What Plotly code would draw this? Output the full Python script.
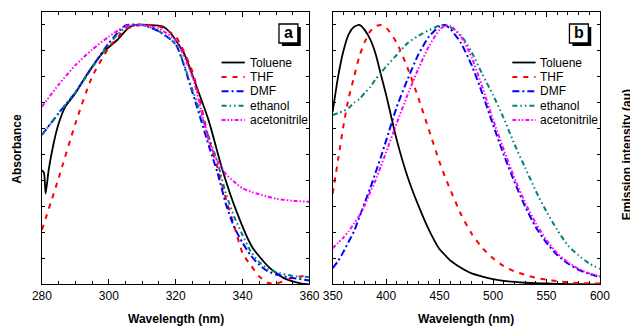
import plotly.graph_objects as go

# ---------------- data ----------------
SERIES = ["Toluene", "THF", "DMF", "ethanol", "acetonitrile"]
COLORS = ["#000000", "#FF0000", "#0000FF", "#008080", "#FF00FF"]
DASHES = ["solid", "5px,6px", "7px,3px,2px,3px", "5px,3px,1.5px,3px,1.5px,3px", "4px,2px,1.5px,2px,1.5px,2px"]
WIDTHS = [1.8, 2, 2, 2, 2]

# Panel a : absorbance
tol_abs_wl = [280, 280.6, 281.1, 282, 283.5, 285, 287, 290, 293.5, 298.5, 302.5, 306, 308, 312, 316,
              318.5, 322.5, 326.3, 329.8, 334, 338, 342.8, 347.7, 352.5, 357.3, 360]
tol_abs = [0.44, 0.43, 0.35, 0.44, 0.544, 0.62, 0.685, 0.737, 0.81, 0.897, 0.942, 0.99, 1.0, 1.0, 0.995,
           0.968, 0.89, 0.76, 0.634, 0.44, 0.287, 0.145, 0.068, 0.023, 0.004, 0.0]

abs_wl = [280, 285, 290, 295, 300, 305, 310, 315, 320, 325, 330, 332.5, 335, 337.5, 340, 342.5, 345, 347.5, 350, 355, 360]
thf_abs = [0.21, 0.41, 0.62, 0.80, 0.912, 0.983, 1.0, 0.995, 0.955, 0.82, 0.555, 0.45, 0.33, 0.225, 0.12, 0.072, 0.03, 0.006, 0.003, 0.025, 0.035]
dmf_abs = [0.576, 0.66, 0.74, 0.838, 0.93, 0.998, 1.0, 0.975, 0.925, 0.74, 0.53, 0.43, 0.31, 0.22, 0.16, 0.11, 0.075, 0.05, 0.038, 0.024, 0.015]
eth_abs = [0.576, 0.66, 0.74, 0.835, 0.925, 0.99, 1.0, 0.975, 0.925, 0.75, 0.565, 0.47, 0.35, 0.26, 0.19, 0.125, 0.085, 0.06, 0.047, 0.032, 0.028]
acn_abs = [0.685, 0.77, 0.845, 0.905, 0.955, 0.995, 1.0, 0.985, 0.94, 0.80, 0.55, 0.475, 0.425, 0.395, 0.37, 0.357, 0.347, 0.338, 0.33, 0.322, 0.318]

# Panel b : emission
em_wl = [350, 355, 360, 365, 370, 375, 380, 385, 390, 395, 400, 410, 420, 430, 440, 450, 455, 460,
         470, 480, 490, 500, 510, 520, 530, 540, 550, 560, 570, 580, 590, 600]
tol_em = [0.666, 0.80, 0.90, 0.965, 0.993, 1.0, 0.98, 0.945, 0.89, 0.81, 0.73, 0.555, 0.415, 0.305, 0.21, 0.135, 0.113, 0.092,
          0.064, 0.042, 0.03, 0.02, 0.013, 0.009, 0.006, 0.004, 0.003, 0.002, 0.001, 0.001, 0.0, 0.0]
thf_em = [0.35, 0.48, 0.61, 0.72, 0.80, 0.88, 0.935, 0.975, 0.995, 1.0, 0.99, 0.93, 0.835, 0.72, 0.595, 0.47, 0.415, 0.365,
          0.27, 0.195, 0.14, 0.10, 0.07, 0.05, 0.036, 0.025, 0.018, 0.012, 0.008, 0.005, 0.004, 0.003]
dmf_em = [0.062, 0.09, 0.125, 0.165, 0.205, 0.26, 0.315, 0.37, 0.43, 0.49, 0.555, 0.685, 0.79, 0.885, 0.955, 0.995, 1.0, 0.985,
          0.93, 0.845, 0.735, 0.615, 0.50, 0.395, 0.30, 0.22, 0.16, 0.113, 0.08, 0.056, 0.04, 0.028]
eth_em = [0.653, 0.66, 0.668, 0.68, 0.70, 0.715, 0.738, 0.76, 0.79, 0.815, 0.84, 0.885, 0.93, 0.958, 0.98, 0.998, 1.0, 0.992,
          0.96, 0.895, 0.81, 0.73, 0.64, 0.54, 0.45, 0.36, 0.28, 0.21, 0.15, 0.112, 0.08, 0.06]
acn_em = [0.139, 0.16, 0.18, 0.205, 0.235, 0.265, 0.305, 0.355, 0.40, 0.455, 0.51, 0.622, 0.73, 0.83, 0.918, 0.982, 0.997, 0.997,
          0.955, 0.875, 0.76, 0.635, 0.52, 0.41, 0.315, 0.235, 0.17, 0.12, 0.085, 0.06, 0.042, 0.03]

abs_x = [tol_abs_wl, abs_wl, abs_wl, abs_wl, abs_wl]
abs_y = [tol_abs, thf_abs, dmf_abs, eth_abs, acn_abs]
em_x = [em_wl] * 5
em_y = [tol_em, thf_em, dmf_em, eth_em, acn_em]

abs_ticks = [280, 300, 320, 340, 360]
em_ticks = [350, 400, 450, 500, 550, 600]

# ---------------- layout helpers ----------------
W, H = 630, 326
FONT = "Arial, 'Liberation Sans', sans-serif"
PLOT_TOP, PLOT_BOTTOM = 12, 284.3
PANELS = [(33, 309.3), (333.3, 609.3)]


def px(x):
    return x / W


def py(y):
    return 1 - y / H


fig = go.Figure()

for k, (xs, ys) in enumerate([(abs_x, abs_y), (em_x, em_y)]):
    xa = "x" if k == 0 else "x2"
    ya = "y" if k == 0 else "y2"
    for i, name in enumerate(SERIES):
        fig.add_trace(go.Scatter(
            x=xs[i], y=ys[i], mode="lines", name=name, showlegend=False,
            line=dict(color=COLORS[i], dash=DASHES[i], width=WIDTHS[i], shape="spline", smoothing=0.6),
            xaxis=xa, yaxis=ya))

axis_common = dict(showgrid=False, zeroline=False, showline=True, linecolor="black", linewidth=1,
                   mirror="ticks", ticks="inside", tickcolor="black", tickwidth=1,
                   tickfont=dict(family=FONT, size=12, color="black"))

fig.update_layout(
    width=W, height=H, margin=dict(l=0, r=0, t=0, b=0),
    paper_bgcolor="white", plot_bgcolor="white",
    xaxis=dict(domain=[px(PANELS[0][0]), px(PANELS[0][1])], range=[280, 360], tickvals=abs_ticks,
               ticklen=5, minor=dict(dtick=5, ticklen=3, ticks="inside", tickcolor="black"),
               anchor="y", **axis_common),
    yaxis=dict(domain=[py(PLOT_BOTTOM), py(PLOT_TOP)], range=[0, 1.05], dtick=0.1, ticklen=3,
               showticklabels=False, anchor="x", **axis_common),
    xaxis2=dict(domain=[px(PANELS[1][0]), px(PANELS[1][1])], range=[350, 600], tickvals=em_ticks,
                ticklen=5, minor=dict(dtick=10, ticklen=3, ticks="inside", tickcolor="black"),
                anchor="y2", **axis_common),
    yaxis2=dict(domain=[py(PLOT_BOTTOM), py(PLOT_TOP)], range=[0, 1.05], dtick=0.1, ticklen=3,
                showticklabels=False, anchor="x2", **axis_common),
)

shapes = []
annotations = []
labels = ["a", "b"]
for k, (left, right) in enumerate(PANELS):
    # axis titles
    annotations.append(dict(text="<b>Wavelength (nm)</b>", x=px((left + right) / 2), y=py(318.5),
                            xref="paper", yref="paper", showarrow=False, xanchor="center", yanchor="middle",
                            font=dict(family=FONT, size=12, color="black")))
    # panel letter box with shadow
    bx1 = right - 12
    bx0 = bx1 - 19.5
    by0, by1 = 24, 43
    shapes.append(dict(type="rect", xref="paper", yref="paper", x0=px(bx0 + 3), x1=px(bx1 + 3),
                       y0=py(by1 + 3), y1=py(by0 + 3), fillcolor="black", line=dict(width=0)))
    shapes.append(dict(type="rect", xref="paper", yref="paper", x0=px(bx0), x1=px(bx1),
                       y0=py(by1), y1=py(by0), fillcolor="white", line=dict(color="black", width=1.3)))
    annotations.append(dict(text="<b>%s</b>" % labels[k], x=px((bx0 + bx1) / 2), y=py((by0 + by1) / 2 - 1),
                            xref="paper", yref="paper", showarrow=False, xanchor="center", yanchor="middle",
                            font=dict(family=FONT, size=16, color="black")))
    # legend
    for i, name in enumerate(SERIES):
        yy = 62.5 + 14.4 * i
        shapes.append(dict(type="line", xref="paper", yref="paper",
                           x0=px(left + 185.5), x1=px(left + 209.5), y0=py(yy), y1=py(yy),
                           line=dict(color=COLORS[i], dash=DASHES[i], width=WIDTHS[i])))
        annotations.append(dict(text=name, x=px(left + 212.5), y=py(yy), xref="paper", yref="paper",
                                showarrow=False, xanchor="left", yanchor="middle",
                                font=dict(family=FONT, size=12, color="black")))

annotations.append(dict(text="<b>Absorbance</b>", x=px(7), y=py(149), xref="paper", yref="paper",
                        showarrow=False, textangle=-90, xanchor="center", yanchor="middle",
                        font=dict(family=FONT, size=12, color="black")))
annotations.append(dict(text="<b>Emission intensity (au)</b>", x=px(637.5), y=py(155), xref="paper", yref="paper",
                        showarrow=False, textangle=-90, xanchor="center", yanchor="middle",
                        font=dict(family=FONT, size=12, color="black")))

fig.update_layout(shapes=shapes, annotations=annotations)
fig.write_html("out.html", config={"displayModeBar": False},
               post_script="document.body.style.margin='0';document.body.style.overflow='hidden';")
